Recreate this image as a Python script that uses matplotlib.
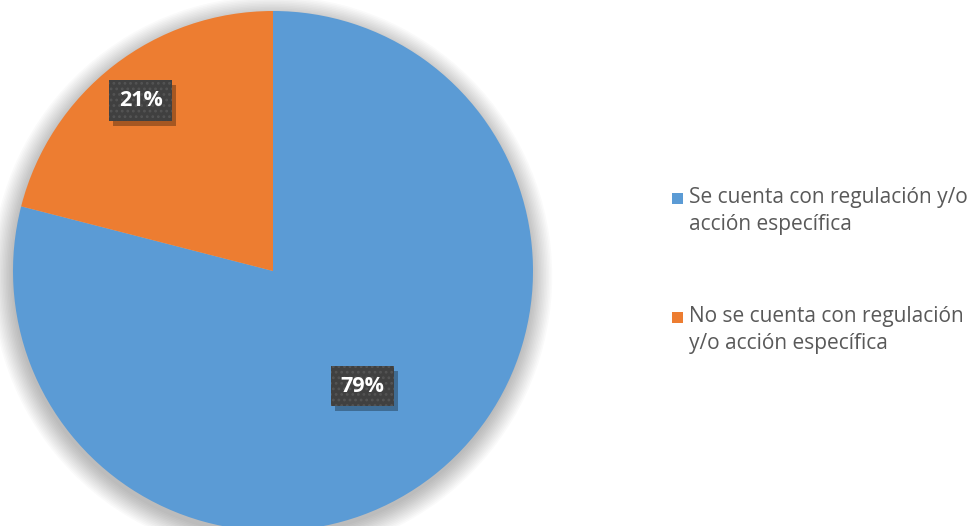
import matplotlib.pyplot as plt
import matplotlib.patches as mpatches
import numpy as np

labels = ['Se cuenta con regulación y/o\nacción específica',
          'No se cuenta con regulación\ny/o acción específica']
values = [79, 21]
colors = ['#5B9BD5', '#ED7D31']
label_radius = [0.56, 0.83]

plt.rcParams['font.family'] = ['Open Sans', 'DejaVu Sans']
plt.rcParams['hatch.linewidth'] = 1.2

W, H = 974, 526
fig = plt.figure(figsize=(W / 100, H / 100), dpi=100)
ax = fig.add_axes([13 / W, -5 / H, 520 / W, 520 / H])
ax.axis('off')

# soft shadow under the pie
for i in range(14):
    r = 1.0 + 0.006 * i
    ax.add_patch(mpatches.Circle((-0.004, -0.02), r, color='k',
                                 alpha=0.018, lw=0, zorder=0, clip_on=False))

wedges, _ = ax.pie(values, colors=colors, startangle=90, counterclock=False,
                   radius=1, wedgeprops=dict(linewidth=0))
for w in wedges:
    w.set_zorder(2)
ax.set_xlim(-1, 1)
ax.set_ylim(-1, 1)
ax.set_aspect('equal')

texts = []
for w, v, rr in zip(wedges, values, label_radius):
    ang = np.deg2rad((w.theta1 + w.theta2) / 2)
    t = ax.text(rr * np.cos(ang), rr * np.sin(ang), f'{v}%', color='white',
                fontsize=15.5, fontweight='bold', ha='center', va='center',
                zorder=5,
                bbox=dict(boxstyle='square,pad=0.45', fc='#404040',
                          ec='#545454', lw=0, hatch='...'))
    texts.append(t)

# drop shadows behind the label boxes
fig.canvas.draw()
for t in texts:
    bb = t.get_bbox_patch().get_window_extent()
    fig.patches.append(mpatches.Rectangle((bb.x0 + 4, bb.y0 - 5), bb.width,
                                          bb.height, fc='k', alpha=0.3,
                                          lw=0, zorder=4,
                                          transform=None, figure=fig))
for t in texts:
    t.remove()
    fig.texts.append(t)
    t.set_figure(fig)

# legend, marker aligned with the first text line
for i, (lab, c) in enumerate(zip(labels, colors)):
    top = 187 + i * 119
    fig.patches.append(mpatches.Rectangle((672 / W, 1 - (top + 17) / H),
                                          11 / W, 11 / H, fc=c, lw=0,
                                          transform=fig.transFigure,
                                          figure=fig))
    fig.text(689 / W, 1 - top / H, lab, color='#595959', fontsize=15,
             ha='left', va='top', linespacing=1.35)

fig.savefig('out.png', dpi=100)
